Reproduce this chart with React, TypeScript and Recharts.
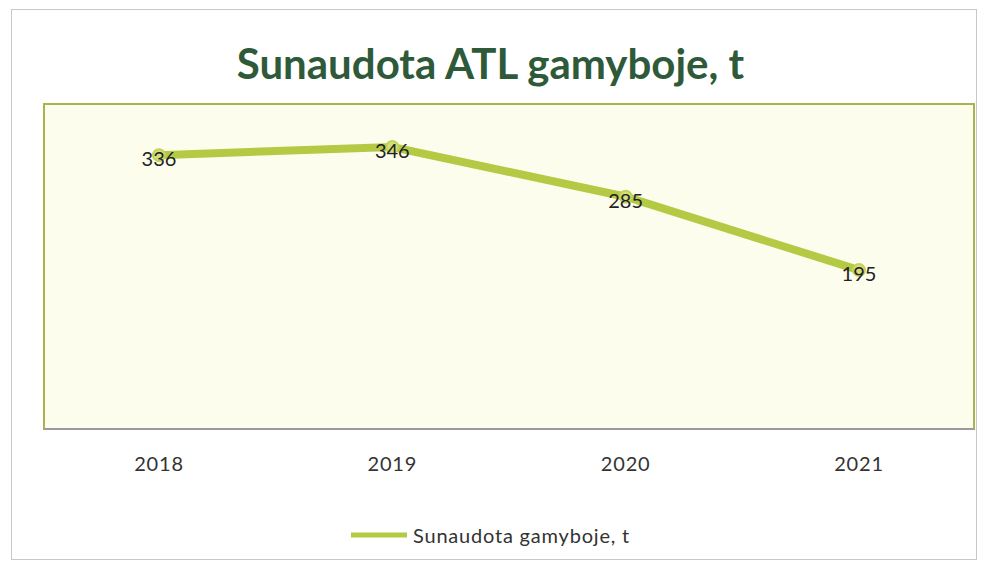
import React from 'react';
import { LineChart, Line, XAxis, YAxis, CartesianGrid, LabelList, Legend } from 'recharts';

const years = ['2018', '2019', '2020', '2021'];
const values = [336, 346, 285, 195];
const seriesName = 'Sunaudota gamyboje, t';
const title = 'Sunaudota ATL gamyboje, t';

const data = years.map((y, i) => ({ year: y, value: values[i] }));

const W = 981;
const H = 565;
const M = { top: 103, right: 6, left: 43, bottom: 106 };
const lineColor = '#b4ca44';
const font = 'Lato, "Open Sans", sans-serif';

const LegendContent = () => (
  <div style={{ display: 'flex', justifyContent: 'center', alignItems: 'center', fontFamily: font, fontSize: 20, letterSpacing: 0.8, color: '#333' }}>
    <svg width={58} height={10} style={{ marginRight: 4 }}>
      <line x1={0} y1={5} x2={56} y2={5} stroke={lineColor} strokeWidth={5} />
    </svg>
    <span>{seriesName}</span>
  </div>
);

export default function App() {
  return (
    <div style={{ position: 'absolute', left: 0, top: 0, width: W, height: H, background: '#fff' }}>
      <div style={{ position: 'absolute', left: 11, top: 9, width: 966, height: 551, border: '1px solid #c8c8c8', boxSizing: 'border-box' }} />
      <div style={{ position: 'absolute', left: 0, top: 38, width: W, textAlign: 'center', fontFamily: font, fontWeight: 700, fontSize: 42, color: '#2f5a3a', lineHeight: '50px' }}>
        {title}
      </div>
      <LineChart width={W} height={H} data={data} margin={M} style={{ position: 'absolute', left: 0, top: 0 }}>
        <CartesianGrid horizontal={false} vertical={false} fill="#fdfdee" />
        <XAxis dataKey="year" axisLine={{ stroke: '#9a9a9a', strokeWidth: 2 }} tickLine={false} tickSize={0} tickMargin={28}
          padding={{ left: 116, right: 116 }}
          tick={{ fill: '#333', fontSize: 20, fontFamily: font, letterSpacing: 0.8 }} interval={0} />
        <YAxis hide domain={[0, 400]} />
        <Legend verticalAlign="middle" align="center" layout="horizontal" content={<LegendContent />}
          wrapperStyle={{ top: 523, left: 0, width: W }} />
        <Line type="linear" dataKey="value" name={seriesName} stroke={lineColor} strokeWidth={8}
          dot={{ r: 6, fill: '#d4de7a', stroke: '#c2d25a', strokeWidth: 2 }} isAnimationActive={false}>
          <LabelList dataKey="value" position="center" fill="#222" fontSize={20} fontFamily={font} dy={4} />
        </Line>
      </LineChart>
      <div style={{ position: 'absolute', left: 43, top: 103, width: 932, height: 326, boxSizing: 'border-box', borderTop: '2px solid #a9b44c', borderLeft: '2px solid #a9b44c', borderRight: '2px solid #a9b44c', pointerEvents: 'none' }} />
    </div>
  );
}
